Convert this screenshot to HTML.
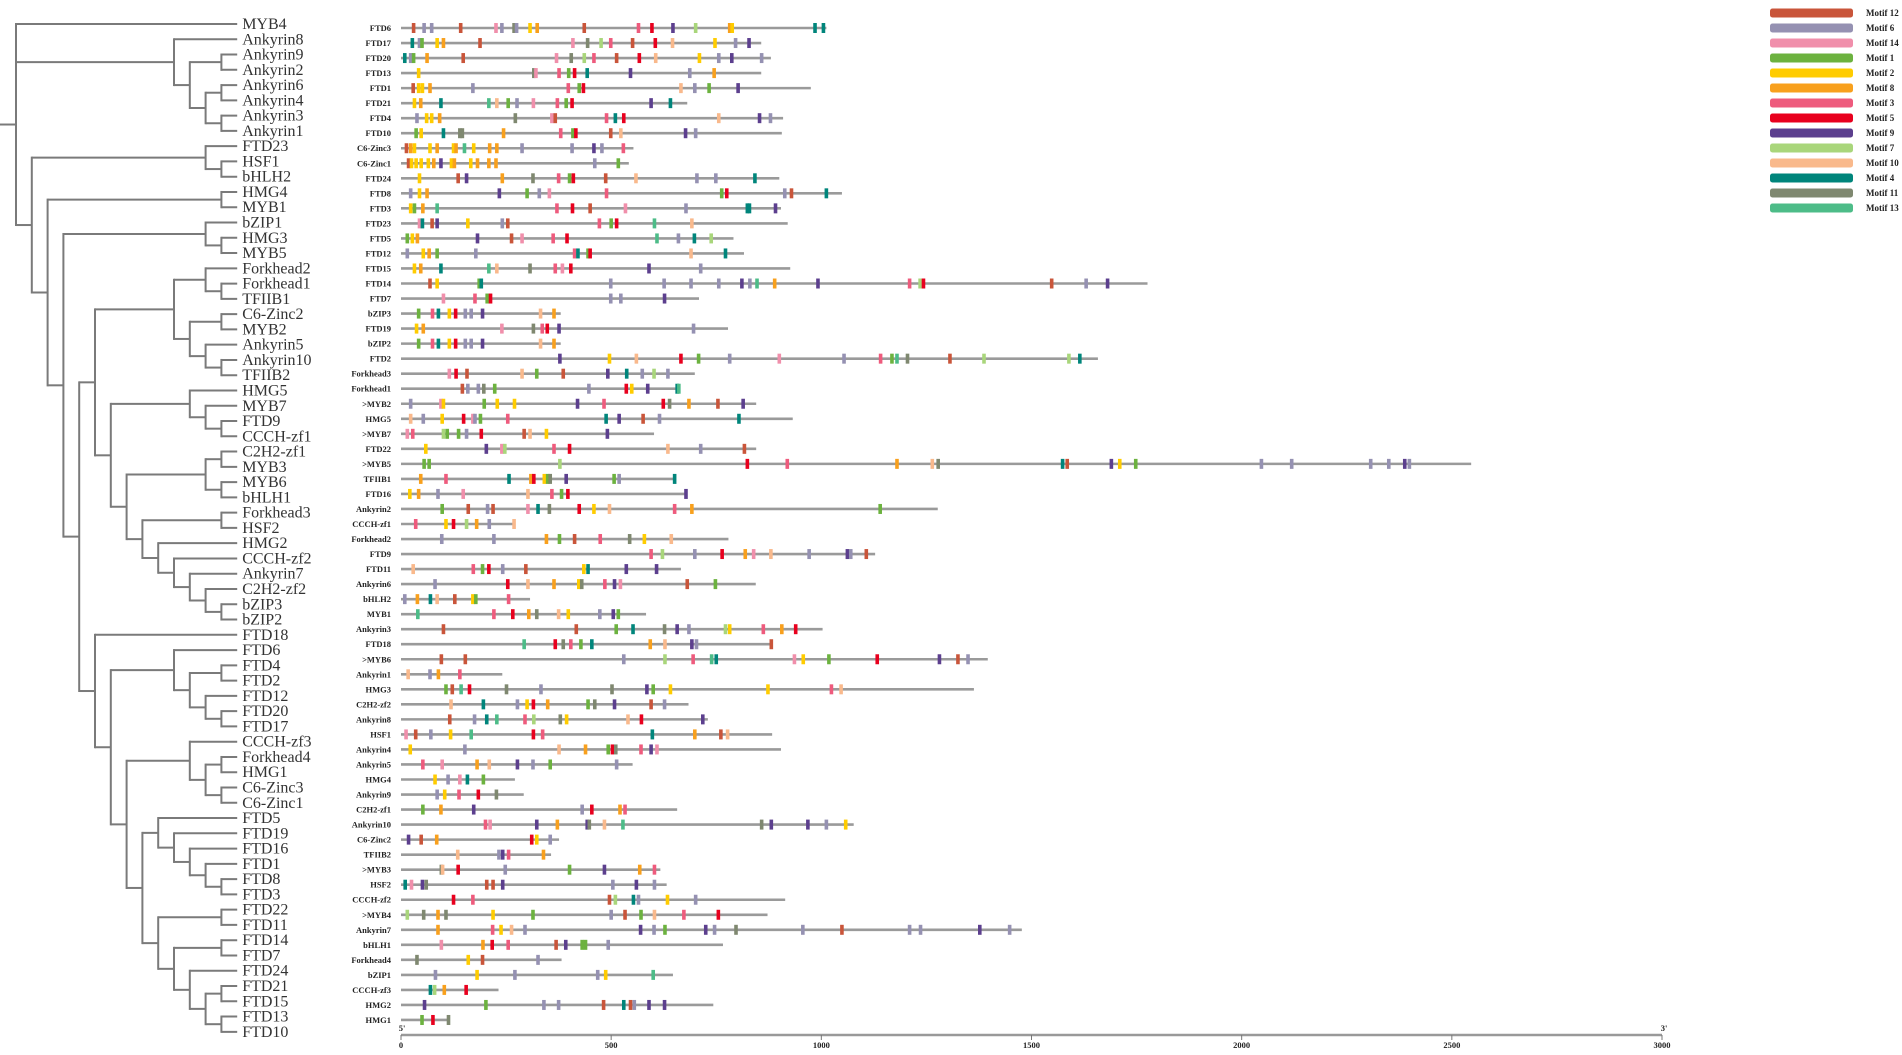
<!DOCTYPE html>
<html><head><meta charset="utf-8">
<style>
html,body{margin:0;padding:0;background:#fff;}
svg{display:block;}
.leaf{font-family:"Liberation Serif",serif;font-size:16px;fill:#333;}
.rl{font-family:"Liberation Serif",serif;font-size:8.5px;font-weight:bold;fill:#222;}
.lg{font-family:"Liberation Serif",serif;font-size:9px;font-weight:bold;fill:#222;}
.ax{font-family:"Liberation Serif",serif;font-size:8.5px;font-weight:bold;fill:#222;}
</style></head>
<body>
<svg id="chart" width="1902" height="1055" viewBox="0 0 1902 1055" xmlns="http://www.w3.org/2000/svg">
<g id="tree"></g>
<g id="motifs"></g>
<g id="axis"></g>
<g id="legend"></g>
</svg>
<script>
// ---- legend data ----
const motifIds = [12,6,14,1,2,8,3,5,9,7,10,4,11,13];
const motifColors = ["#c9553a","#9591b2","#f08fab","#6cb23f","#ffcc00","#f8a01d","#ee5b7d","#e8001e","#5c3f8e","#a9d67b","#f9b98c","#00857b","#7f8870","#4dbc88"];

// ---- tree data (level, children...) ----
const ankClade = [10,"Ankyrin8",[11,[13,"Ankyrin9","Ankyrin2"],[12,[13,"Ankyrin6","Ankyrin4"],[13,"Ankyrin3","Ankyrin1"]]]];
const cladeA = [10,[12,"Forkhead2",[13,"Forkhead1","TFIIB1"]],[11,[13,"C6-Zinc2","MYB2"],[12,"Ankyrin5",[13,"Ankyrin10","TFIIB2"]]]];
const cladeB = [8,[13,"Forkhead3","HSF2"],[9,"HMG2",[10,"CCCH-zf2",[11,"Ankyrin7",[12,"C2H2-zf2",[13,"bZIP3","bZIP2"]]]]]];
const cladeC = [6,[11,"HMG5",[12,"MYB7",[13,"FTD9","CCCH-zf1"]]],[7,[12,[13,"C2H2-zf1","MYB3"],[13,"MYB6","bHLH1"]],cladeB]];
const node5a = [5,cladeA,cladeC];
const cladeD = [10,"FTD6",[11,[13,"FTD4","FTD2"],[12,"FTD12",[13,"FTD20","FTD17"]]]];
const cladeE = [11,"CCCH-zf3",[12,[13,"Forkhead4","HMG1"],[13,"C6-Zinc3","C6-Zinc1"]]];
const cladeF = [9,"FTD5",[10,"FTD19",[11,"FTD16",[12,"FTD1",[13,"FTD8","FTD3"]]]]];
const cladeG = [9,[13,"FTD22","FTD11"],[10,[13,"FTD14","FTD7"],[11,"FTD24",[12,[13,"FTD21","FTD15"],[13,"FTD13","FTD10"]]]]];
const node5b = [5,"FTD18",[6,cladeD,[7,cladeE,[8,cladeF,cladeG]]]];
const node3 = [3,[12,"bZIP1",[13,"HMG3","MYB5"]],[4,node5a,node5b]];
const node2 = [2,[13,"HMG4","MYB1"],node3];
const node1 = [1,[12,"FTD23",[13,"HSF1","bHLH2"]],node2];
const tree = [0,"MYB4",ankClade,node1];

// ---- motif panel data ----
const rowNames = ["FTD6","FTD17","FTD20","FTD13","FTD1","FTD21","FTD4","FTD10","C6-Zinc3","C6-Zinc1","FTD24","FTD8","FTD3","FTD23","FTD5","FTD12","FTD15","FTD14","FTD7","bZIP3","FTD19","bZIP2","FTD2","Forkhead3","Forkhead1",">MYB2","HMG5",">MYB7","FTD22",">MYB5","TFIIB1","FTD16","Ankyrin2","CCCH-zf1","Forkhead2","FTD9","FTD11","Ankyrin6","bHLH2","MYB1","Ankyrin3","FTD18",">MYB6","Ankyrin1","HMG3","C2H2-zf2","Ankyrin8","HSF1","Ankyrin4","Ankyrin5","HMG4","Ankyrin9","C2H2-zf1","Ankyrin10","C6-Zinc2","TFIIB2",">MYB3","HSF2","CCCH-zf2",">MYB4","Ankyrin7","bHLH1","Forkhead4","bZIP1","CCCH-zf3","HMG2","HMG1"];
const rowLengths = [1012,857,880,857,975,681,909,906,553,542,900,1049,904,920,791,816,926,1776,709,380,778,380,1658,699,663,845,932,602,845,2546,651,678,1277,269,779,1128,666,844,307,583,1003,883,1396,241,1363,684,730,883,904,551,271,292,657,1077,376,357,617,632,914,872,1477,766,382,647,232,743,113];
const rowMotifs = [
[[30,12],[55,6],[73,6],[142,12],[226,14],[240,6],[269,11],[275,6],[307,2],[324,8],[436,12],[565,3],[597,5],[647,9],[701,7],[782,8],[788,2],[985,4],[1005,4]],
[[27,4],[44,6],[50,1],[86,2],[101,8],[188,12],[409,14],[444,11],[476,7],[499,3],[551,12],[605,5],[646,10],[747,2],[796,6],[828,9]],
[[9,4],[23,6],[30,1],[62,8],[148,12],[370,14],[405,11],[436,7],[459,3],[513,12],[567,5],[606,10],[710,2],[756,6],[787,9],[858,6]],
[[42,2],[316,11],[321,14],[376,3],[399,1],[413,5],[443,4],[546,9],[687,6],[745,8]],
[[29,12],[42,2],[51,2],[69,8],[171,6],[398,3],[424,1],[434,5],[666,10],[699,6],[733,1],[802,9]],
[[32,2],[47,8],[95,4],[209,13],[228,10],[255,1],[276,6],[315,14],[372,3],[393,1],[407,5],[595,9],[641,4]],
[[38,6],[61,2],[73,2],[92,8],[272,11],[359,14],[367,12],[489,3],[510,4],[530,5],[756,10],[853,9],[879,6]],
[[36,1],[48,2],[101,4],[140,11],[146,11],[244,8],[380,3],[409,1],[416,5],[499,12],[523,10],[677,9],[701,6]],
[[13,12],[23,8],[32,2],[69,2],[86,8],[125,2],[131,8],[151,13],[173,2],[211,8],[228,8],[288,6],[407,6],[459,9],[478,6],[529,3]],
[[18,12],[25,2],[36,2],[48,2],[65,2],[78,8],[95,9],[120,2],[127,8],[166,2],[182,8],[209,8],[226,8],[461,6],[517,1]],
[[44,2],[136,12],[156,9],[241,8],[314,11],[375,3],[401,1],[410,5],[487,12],[559,10],[704,6],[749,6],[842,4]],
[[23,6],[44,2],[62,8],[234,9],[300,1],[329,6],[353,14],[489,3],[763,1],[775,5],[913,6],[929,12],[1012,4]],
[[23,2],[32,1],[52,8],[86,13],[371,3],[408,5],[450,12],[534,14],[678,6],[824,4],[829,4],[891,9]],
[[44,14],[51,4],[74,12],[86,9],[159,2],[241,6],[254,12],[472,3],[500,1],[513,5],[603,13],[692,10]],
[[15,1],[27,2],[39,8],[182,9],[263,12],[288,14],[362,3],[395,5],[609,13],[660,6],[698,4],[738,7]],
[[15,6],[53,2],[67,8],[86,1],[178,6],[413,3],[421,4],[445,1],[450,5],[690,10],[772,4]],
[[32,2],[47,8],[95,4],[209,13],[228,10],[307,11],[367,3],[384,14],[404,5],[590,9],[713,6]],
[[69,12],[86,2],[186,1],[191,4],[499,6],[626,6],[690,6],[756,6],[811,9],[830,6],[847,13],[889,8],[992,9],[1210,3],[1235,7],[1243,5],[1548,12],[1630,6],[1681,9]],
[[101,14],[176,3],[205,1],[213,5],[499,6],[523,6],[627,9]],
[[42,1],[75,3],[89,4],[115,2],[130,5],[153,6],[167,6],[194,9],[332,10],[364,8]],
[[37,2],[53,8],[240,14],[315,11],[336,3],[348,5],[376,9],[696,6]],
[[42,1],[75,3],[89,4],[115,2],[130,5],[153,6],[167,6],[194,9],[332,10],[364,8]],
[[378,9],[496,2],[560,10],[666,5],[708,1],[782,6],[900,14],[1054,6],[1141,3],[1168,1],[1180,13],[1205,11],[1306,12],[1387,7],[1589,7],[1615,4]],
[[115,14],[131,5],[157,12],[288,10],[323,1],[386,12],[492,9],[537,4],[574,6],[602,7],[635,6]],
[[146,12],[159,6],[184,6],[197,11],[223,1],[447,6],[536,5],[549,2],[587,9],[657,4],[661,13]],
[[23,6],[95,14],[101,2],[198,1],[229,2],[270,2],[420,9],[483,3],[624,5],[639,11],[685,8],[754,12],[814,9]],
[[23,10],[53,6],[98,2],[149,5],[171,14],[176,6],[189,1],[254,3],[488,4],[519,9],[576,12],[615,6],[804,4]],
[[15,14],[28,3],[101,7],[110,1],[137,1],[156,6],[191,5],[293,12],[307,10],[346,2],[491,9]],
[[59,2],[203,9],[240,14],[247,7],[364,3],[401,5],[635,10],[713,6],[817,12]],
[[55,1],[67,1],[378,7],[824,5],[919,3],[1180,8],[1264,10],[1278,11],[1574,4],[1585,12],[1690,9],[1710,2],[1748,1],[2047,6],[2119,6],[2307,6],[2350,6],[2388,9],[2399,6]],
[[47,8],[107,3],[257,4],[309,8],[316,5],[341,2],[349,1],[355,11],[393,9],[507,1],[519,6],[651,4]],
[[21,2],[42,8],[88,6],[148,14],[302,10],[359,3],[382,1],[397,5],[678,9]],
[[98,1],[160,12],[206,6],[219,12],[302,14],[326,4],[353,11],[424,5],[459,2],[496,10],[651,3],[692,8],[1140,1]],
[[35,3],[107,2],[125,5],[156,7],[180,8],[210,6],[269,10]],
[[97,6],[221,6],[346,8],[377,1],[413,12],[474,3],[544,11],[579,2],[643,10]],
[[595,3],[622,7],[699,6],[764,5],[819,8],[839,14],[880,10],[971,6],[1062,9],[1070,6],[1107,12]],
[[29,10],[172,3],[194,1],[209,5],[242,6],[297,12],[435,2],[445,4],[536,9],[608,9]],
[[81,6],[254,5],[302,10],[364,8],[423,2],[430,11],[485,3],[508,9],[522,14],[681,12],[748,1]],
[[9,6],[39,8],[70,4],[86,10],[128,12],[171,2],[178,1],[256,3]],
[[40,13],[221,3],[266,5],[304,8],[323,11],[375,10],[398,2],[473,6],[505,9],[517,1]],
[[101,12],[417,12],[512,1],[552,4],[627,11],[657,9],[685,6],[772,7],[782,2],[862,3],[906,8],[939,5]],
[[293,13],[367,5],[386,11],[404,3],[428,1],[454,4],[593,8],[628,10],[692,9],[703,6],[881,12]],
[[96,12],[153,12],[530,6],[628,7],[695,3],[739,13],[750,4],[936,14],[957,2],[1018,1],[1133,5],[1281,9],[1325,12],[1349,6]],
[[17,10],[69,6],[89,8],[140,3]],
[[107,1],[122,12],[143,13],[163,5],[251,11],[333,6],[502,11],[585,9],[600,1],[641,2],[873,2],[1024,3],[1047,10]],
[[119,10],[196,4],[277,6],[300,2],[315,5],[349,8],[445,1],[461,11],[508,9],[595,12],[627,6]],
[[116,12],[175,6],[204,4],[228,13],[295,3],[316,7],[379,11],[394,2],[540,10],[572,5],[718,9]],
[[12,14],[35,12],[71,6],[118,2],[167,13],[315,5],[337,3],[598,4],[699,8],[761,12],[777,10]],
[[22,2],[152,6],[376,10],[439,8],[493,1],[503,5],[511,11],[571,3],[595,9],[609,14]],
[[52,3],[98,14],[181,8],[210,10],[277,9],[314,6],[355,1],[513,6]],
[[81,2],[112,6],[140,14],[158,4],[196,1]],
[[86,6],[104,2],[138,3],[184,5],[227,11]],
[[52,1],[95,8],[173,9],[431,6],[454,5],[521,8],[533,3]],
[[201,3],[212,14],[323,9],[372,8],[443,9],[448,11],[484,10],[528,13],[858,11],[881,9],[968,9],[1012,6],[1058,2]],
[[18,9],[48,12],[85,8],[311,5],[323,2],[355,6]],
[[135,10],[233,6],[242,9],[256,3],[339,8]],
[[96,11],[99,10],[136,5],[248,6],[401,1],[484,9],[568,8],[603,3]],
[[10,4],[25,14],[51,9],[60,11],[204,12],[219,12],[242,9],[504,6],[560,9],[603,6]],
[[125,5],[171,3],[496,12],[510,7],[553,4],[565,6],[634,2],[701,6]],
[[15,7],[54,11],[88,8],[107,11],[219,2],[314,1],[500,6],[533,12],[571,1],[603,10],[673,3],[755,5]],
[[88,8],[218,3],[238,2],[263,10],[295,6],[570,9],[602,6],[628,1],[725,9],[746,6],[797,11],[956,6],[1049,12],[1210,6],[1236,6],[1377,9],[1448,6]],
[[96,14],[195,8],[217,5],[255,3],[369,12],[392,9],[431,1],[439,1],[493,6]],
[[38,11],[160,2],[194,12],[326,6]],
[[82,6],[181,2],[271,6],[468,6],[487,2],[600,13]],
[[70,4],[80,7],[103,8],[155,5]],
[[56,9],[202,1],[340,6],[375,6],[482,12],[530,4],[546,12],[555,6],[590,9],[627,9]],
[[50,1],[76,5],[113,11]]
];

// ---- axis data ----
const axisTicks = [0,500,1000,1500,2000,2500,3000];

const NS = "http://www.w3.org/2000/svg";
function mk(tag, attrs, parent){
  const e = document.createElementNS(NS, tag);
  Object.keys(attrs).forEach(function(k){ e.setAttribute(k, attrs[k]); });
  parent.appendChild(e);
  return e;
}

// ===== tree =====
const treeG = document.getElementById('tree');
const leafY0 = 24, leafDY = 15.27;
function levelX(k){ return 16 + 15.8 * k; }
const LEAF_LEVEL = 14;
let leafIdx = 0;
function branchAttrs(x1,y1,x2,y2){ return {x1:x1,y1:y1,x2:x2,y2:y2,stroke:"#7a7a7a","stroke-width":2,fill:"none"}; }
function layout(node){
  if (typeof node === "string"){
    const y = leafY0 + leafDY * (leafIdx++);
    const t = mk('text', {x: levelX(LEAF_LEVEL) + 5, y: y + 5, "class":'leaf'}, treeG);
    
    
    t.textContent = node;
    return {x: levelX(LEAF_LEVEL), y: y};
  }
  const k = node[0];
  const x = levelX(k);
  const kids = node.slice(1).map(layout);
  const y = (kids[0].y + kids[kids.length-1].y) / 2;
  const v = mk('line', branchAttrs(x, kids[0].y - 1, x, kids[kids.length-1].y + 1), treeG);
  
  
  kids.forEach(function(c){
    const h = mk('line', branchAttrs(x, c.y, c.x, c.y), treeG);
    
    
  });
  return {x:x, y:y};
}
try {
  const rootPos = layout(tree);
  const rootLine = mk('line', branchAttrs(0, rootPos.y, rootPos.x, rootPos.y), treeG);
  
  
} catch(err) { console.log(err); }

// ===== motif panel =====
const mg = document.getElementById('motifs');
const X0 = 401, XMAX = 1662, AAMAX = 3000;
function xScale(v){ return X0 + (XMAX - X0) * v / AAMAX; }
const rowY0 = 28, rowDY = 15.03;
function rowY(i){ return rowY0 + rowDY * i; }
function colorOf(id){ return motifColors[motifIds.indexOf(id)]; }

rowNames.forEach(function(name, i){
  const y = rowY(i);
  const g = mk('g', {}, mg);
  
  
  const lab = mk('text', {x: 391, y: y + 3, 'text-anchor':'end', "class":'rl'}, g);
  
  
  lab.textContent = name;
  const bb = mk('line', {x1: xScale(0), y1: y, x2: xScale(rowLengths[i] || 0), y2: y, stroke:'#9a9a9a', 'stroke-width':2.6}, g);
  
  
  (rowMotifs[i] || []).forEach(function(m){
    const r = mk('rect', {x: xScale(m[0]) - 1.8, y: y - 5, width: 3.6, height: 10, fill: colorOf(m[1])}, g);
    
    
  });
});

// ===== axis =====
const ag = document.getElementById('axis');
const axY = 1035;
const axl = mk('line', {x1: xScale(0), y1: axY, x2: xScale(AAMAX), y2: axY, stroke:'#999', 'stroke-width':2.5}, ag);


axisTicks.forEach(function(t){
  const tk = mk('line', {x1: xScale(t), y1: axY, x2: xScale(t), y2: axY + 5, stroke:'#777', 'stroke-width':1}, ag);
  
  
  const tl = mk('text', {x: xScale(t), y: axY + 13, 'text-anchor':'middle', "class":'ax'}, ag);
  
  
  tl.textContent = t;
});
const p5 = mk('text', {x: xScale(0) + 1, y: axY - 4, "class":'ax', 'text-anchor':'middle'}, ag);


p5.textContent = "5'";
const p3 = mk('text', {x: xScale(AAMAX) + 2, y: axY - 4, "class":'ax', 'text-anchor':'middle'}, ag);


p3.textContent = "3'";

// ===== legend =====
const lg = document.getElementById('legend');
motifIds.forEach(function(id, i){
  const y = 13 + 15 * i;
  const g = mk('g', {}, lg);
  
  
  mk('rect', {x: 1770, y: y - 4.5, width: 83, height: 9, rx: 2.5, fill: motifColors[i]}, g);
  const t = mk('text', {x: 1866, y: y + 3, "class":'lg'}, g);
  t.textContent = 'Motif ' + id;
});
</script>
</body></html>
